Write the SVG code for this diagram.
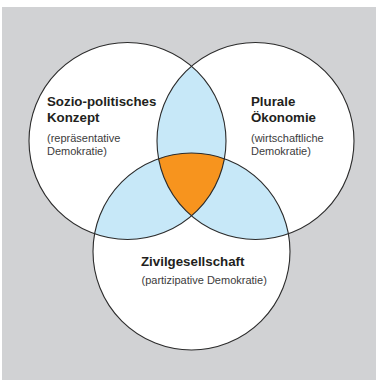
<svg xmlns="http://www.w3.org/2000/svg" width="376" height="380" viewBox="0 0 376 380">
<style>
.ring{fill:none;stroke:#2b2b2b;stroke-width:1.1}
.title{font-family:"Liberation Sans",Arial,sans-serif;font-weight:bold;font-size:13.3px;fill:#231f20}
.sub{font-family:"Liberation Sans",Arial,sans-serif;font-size:11px;fill:#3c3c3c}
</style>
<defs>
<clipPath id="cL"><circle cx="127.5" cy="141" r="98.5"/></clipPath>
<clipPath id="cR"><circle cx="255.5" cy="141" r="98.5"/></clipPath>
<clipPath id="cB"><circle cx="191.5" cy="251.5" r="98.5"/></clipPath>
</defs>
<rect x="2" y="7" width="374" height="373" fill="#d1d2d4"/>
<g id="fills">
<circle cx="127.5" cy="141" r="98.5" fill="#ffffff"/>
<circle cx="255.5" cy="141" r="98.5" fill="#ffffff"/>
<circle cx="191.5" cy="251.5" r="98.5" fill="#ffffff"/>
<g clip-path="url(#cL)"><circle cx="255.5" cy="141" r="98.5" fill="#c7e8f8"/><circle cx="191.5" cy="251.5" r="98.5" fill="#c7e8f8"/></g>
<g clip-path="url(#cR)"><circle cx="191.5" cy="251.5" r="98.5" fill="#c7e8f8"/></g>
<g clip-path="url(#cL)"><g clip-path="url(#cR)"><circle cx="191.5" cy="251.5" r="98.5" fill="#f7941e"/></g></g>
</g>
<g id="node-sozio">
<circle class="ring" cx="127.5" cy="141" r="98.5"/>
<text class="title" x="47" y="105.5">Sozio-politisches</text>
<text class="title" x="47" y="122">Konzept</text>
<text class="sub" x="47" y="142">(repräsentative</text>
<text class="sub" x="47" y="155">Demokratie)</text>
</g>
<g id="node-oekonomie">
<circle class="ring" cx="255.5" cy="141" r="98.5"/>
<text class="title" x="251" y="105.5">Plurale</text>
<text class="title" x="251" y="122">Ökonomie</text>
<text class="sub" x="251" y="142">(wirtschaftliche</text>
<text class="sub" x="251" y="155">Demokratie)</text>
</g>
<g id="node-zivil">
<circle class="ring" cx="191.5" cy="251.5" r="98.5"/>
<text class="title" x="141" y="265.5">Zivilgesellschaft</text>
<text class="sub" x="141.5" y="283.5">(partizipative Demokratie)</text>
</g>
<g id="connectors"></g>
</svg>
